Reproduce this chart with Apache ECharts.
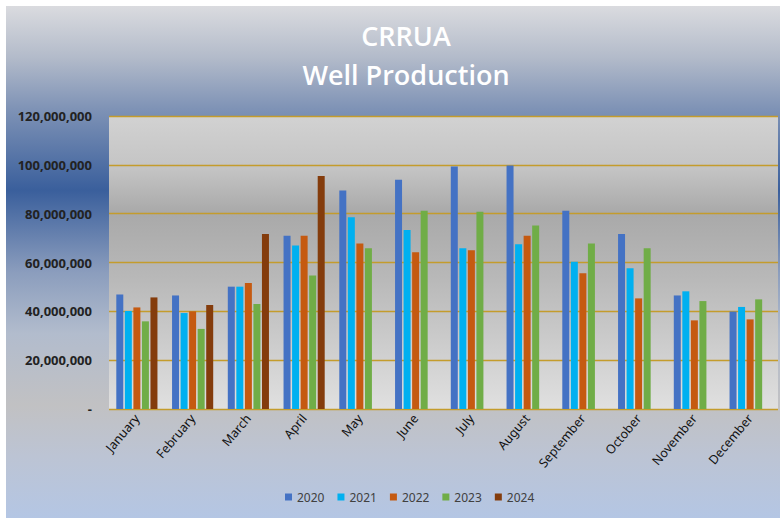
<!DOCTYPE html>
<html>
<head>
<meta charset="utf-8">
<script src="https://cdn.jsdelivr.net/npm/echarts@6/dist/echarts.min.js"></script>
<style>
  html, body { margin:0; padding:0; background:#fff; }
  #bg { position:absolute; left:6px; top:6px; width:774px; height:512px;
    background:linear-gradient(to bottom, #dadbdf 0%, #b3bbca 10%, #7f93b6 20%, #3a5f9c 36%, #8b9dbd 52%, #b2bccd 64%, #c1c1c3 78%, #bcc4d4 88%, #b4c6e4 100%); }
  #chart { position:absolute; left:0; top:0; width:780px; height:518px; }
</style>
</head>
<body>
<div id="bg"></div>
<div id="chart"></div>
<script>
// 月份 + 各年份产量
var months = ['January', 'February', 'March', 'April', 'May', 'June', 'July', 'August', 'September', 'October', 'November', 'December'];
var years = ['2020', '2021', '2022', '2023', '2024'];
var y2020 = [46900000, 46500000, 50100000, 71000000, 89500000, 93900000, 99300000, 99700000, 81200000, 71700000, 46500000, 39900000];
var y2021 = [40100000, 39300000, 50100000, 67000000, 78500000, 73300000, 65800000, 67500000, 60300000, 57600000, 48200000, 41800000];
var y2022 = [41600000, 40000000, 51600000, 71000000, 67800000, 64200000, 65000000, 71000000, 55600000, 45300000, 36300000, 36700000];
var y2023 = [35900000, 32800000, 43000000, 54700000, 65800000, 81200000, 80800000, 75200000, 67800000, 65800000, 44200000, 44900000];
var y2024 = [45700000, 42600000, 71700000, 95400000, null, null, null, null, null, null, null, null];
var yTicks = [0, 20000000, 40000000, 60000000, 80000000, 100000000, 120000000];

var colors = ['#4472c4', '#00b0f0', '#c55a11', '#70ad47', '#843c0c'];
var values = [y2020, y2021, y2022, y2023, y2024];

var chart = echarts.init(document.getElementById('chart'), null, { renderer: 'svg' });
chart.setOption({
  backgroundColor: 'transparent',
  color: colors,
  title: {
    text: 'CRRUA\nWell Production',
    left: 401,
    textAlign: 'center',
    top: 11,
    textStyle: { color: '#fff', fontSize: 27, fontWeight: 600, lineHeight: 39, fontFamily: 'Open Sans' }
  },
  legend: {
    data: years,
    bottom: 10,
    left: 280,
    icon: 'rect',
    itemWidth: 7,
    itemHeight: 7,
    itemGap: 13,
    textStyle: { color: '#404040', fontSize: 12, fontFamily: 'Noto Sans' }
  },
  grid: {
    left: 109, right: 2, top: 116, bottom: 109,
    show: true,
    borderWidth: 0,
    backgroundColor: new echarts.graphic.LinearGradient(0, 0, 0, 1, [
      { offset: 0, color: '#d2d2d2' },
      { offset: 0.18, color: '#c4c4c4' },
      { offset: 0.33, color: '#a9a9a9' },
      { offset: 0.55, color: '#b8b8b8' },
      { offset: 1, color: '#e0e0e0' }
    ])
  },
  xAxis: {
    type: 'category',
    data: months,
    axisLine: { show: false },
    axisTick: { show: false },
    axisLabel: { rotate: 50, margin: 7, interval: 0, color: '#111', fontSize: 12.5, fontFamily: 'Noto Sans' }
  },
  yAxis: {
    type: 'value',
    min: yTicks[0],
    max: yTicks[yTicks.length - 1],
    interval: 20000000,
    axisLine: { show: false },
    axisTick: { show: false },
    splitLine: { lineStyle: { color: '#c49c2c', width: 1.4 } },
    axisLabel: {
      margin: 17,
      color: '#222',
      fontSize: 13,
      fontWeight: 'bold',
      fontFamily: 'Noto Sans',
      formatter: function (v) { return v === 0 ? '-' : v.toLocaleString('en-US'); }
    }
  },
  series: years.map(function (y, i) {
    return { name: y, type: 'bar', data: values[i], barWidth: 7, barGap: '22%' };
  })
});
</script>
</body>
</html>
